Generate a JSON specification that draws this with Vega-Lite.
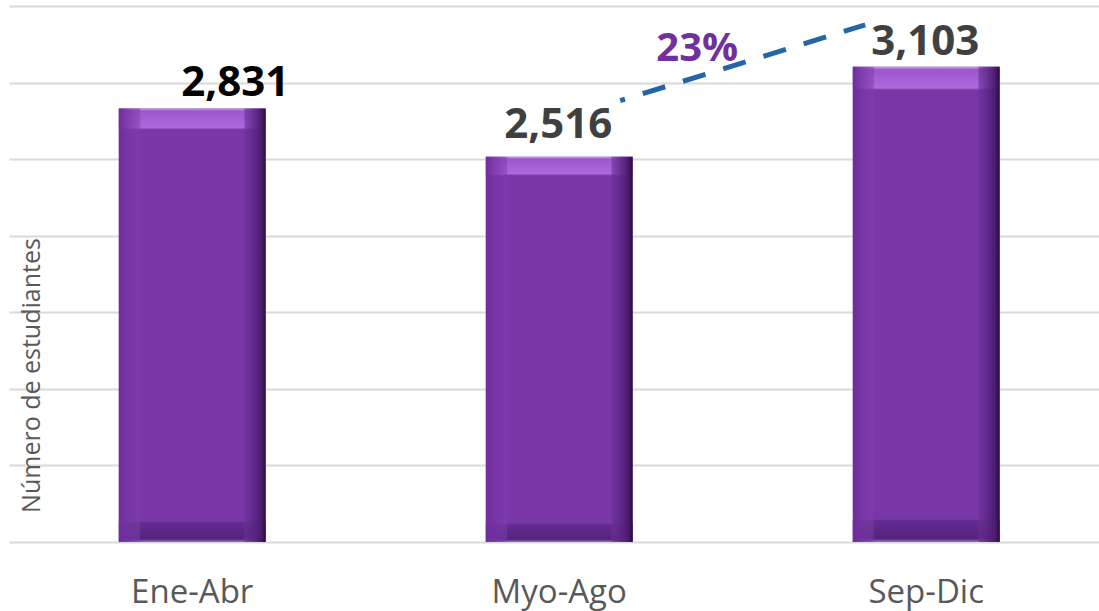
{
  "$schema": "https://vega.github.io/schema/vega-lite/v6.json",
  "autosize": {"type": "none"},
  "padding": {"left": 9, "top": 6, "right": 0, "bottom": 69},
  "width": 1090,
  "height": 536,
  "background": "white",
  "config": {"view": {"stroke": null}, "font": "Open Sans"},
  "datasets": {
    "estudiantes": [
      {"periodo": "Ene-Abr", "estudiantes": 2831},
      {"periodo": "Myo-Ago", "estudiantes": 2516},
      {"periodo": "Sep-Dic", "estudiantes": 3103}
    ],
    "tendencia": [
      {"desde": "Myo-Ago", "hasta": "Sep-Dic", "inicio": 2516, "fin": 3103, "cambio": "23%"}
    ]
  },
  "encoding": {
    "x": {
      "field": "periodo", "type": "nominal", "sort": null,
      "scale": {"domain": ["Ene-Abr", "Myo-Ago", "Sep-Dic"], "paddingInner": 0.6, "paddingOuter": 0.285, "align": 0.525},
      "axis": {"title": null, "domain": false, "ticks": false, "labelAngle": 0, "labelFont": "Open Sans", "labelFontSize": 33, "labelColor": "#595959", "labelBaseline": "alphabetic", "labelPadding": 60}
    },
    "y": {
      "field": "estudiantes", "type": "quantitative",
      "scale": {"domain": [0, 3500], "nice": false, "zero": true},
      "axis": {"title": "Número de estudiantes", "values": [0, 500, 1000, 1500, 2000, 2500, 3000, 3500], "labels": false, "ticks": false, "domain": false, "grid": true, "gridColor": "#D9D9D9", "gridWidth": 2, "titleFont": "Open Sans", "titleFontSize": 25, "titleFontWeight": "normal", "titleColor": "#595959", "titleAngle": -90, "titleAlign": "center", "titleBaseline": "middle", "titleX": 22, "titleY": 369}
    }
  },
  "layer": [
    {"data": {"name": "estudiantes"}, "mark": {"type": "bar", "fill": "#7A37A8"}},
    {"data": {"name": "estudiantes"}, "mark": {"type": "bar", "fill": {"gradient": "linear", "x1": 0, "y1": 0, "x2": 0, "y2": 1, "stops": [
      {"offset": 0, "color": "rgba(200,160,235,1)"},
      {"offset": 0.006, "color": "rgba(155,88,205,1)"},
      {"offset": 0.045, "color": "rgba(172,106,222,1)"},
      {"offset": 0.05, "color": "rgba(122,55,168,0)"},
      {"offset": 0.95, "color": "rgba(122,55,168,0)"},
      {"offset": 0.955, "color": "rgba(100,44,146,1)"},
      {"offset": 0.993, "color": "rgba(82,36,122,1)"},
      {"offset": 1, "color": "rgba(160,110,205,1)"}
    ]}}},
    {"data": {"name": "estudiantes"}, "mark": {"type": "bar", "fill": {"gradient": "linear", "x1": 0, "y1": 0, "x2": 1, "y2": 0, "stops": [
      {"offset": 0, "color": "rgba(110,45,155,1)"},
      {"offset": 0.14, "color": "rgba(128,60,175,0.5)"},
      {"offset": 0.15, "color": "rgba(122,55,168,0)"},
      {"offset": 0.85, "color": "rgba(122,55,168,0)"},
      {"offset": 0.86, "color": "rgba(108,46,152,0.6)"},
      {"offset": 0.97, "color": "rgba(75,28,110,1)"},
      {"offset": 1, "color": "rgba(40,12,65,1)"}
    ]}}},
    {"data": {"name": "estudiantes"}, "transform": [{"filter": "datum.periodo === 'Ene-Abr'"}],
     "mark": {"type": "text", "font": "Open Sans", "fontSize": 42, "fontWeight": "bold", "color": "#000000", "align": "center", "baseline": "alphabetic", "dx": 43, "dy": -12},
     "encoding": {"text": {"field": "estudiantes", "type": "quantitative", "format": ",.0f"}}},
    {"data": {"name": "estudiantes"}, "transform": [{"filter": "datum.periodo === 'Myo-Ago'"}],
     "mark": {"type": "text", "font": "Open Sans", "fontSize": 42, "fontWeight": "bold", "color": "#404040", "align": "center", "baseline": "alphabetic", "dx": -1, "dy": -19},
     "encoding": {"text": {"field": "estudiantes", "type": "quantitative", "format": ",.0f"}}},
    {"data": {"name": "estudiantes"}, "transform": [{"filter": "datum.periodo === 'Sep-Dic'"}],
     "mark": {"type": "text", "font": "Open Sans", "fontSize": 42, "fontWeight": "bold", "color": "#404040", "align": "center", "baseline": "alphabetic", "dx": -1, "dy": -12},
     "encoding": {"text": {"field": "estudiantes", "type": "quantitative", "format": ",.0f"}}},
    {"data": {"name": "tendencia"},
     "mark": {"type": "rule", "color": "#2365A6", "strokeWidth": 5, "strokeCap": "butt", "strokeDash": [23.5, 18.6], "strokeDashOffset": 18.5, "xOffset": 61, "x2Offset": -61, "yOffset": -56, "y2Offset": -42},
     "encoding": {
       "x": {"field": "desde", "type": "nominal"},
       "x2": {"field": "hasta"},
       "y": {"field": "inicio", "type": "quantitative"},
       "y2": {"field": "fin"}
     }},
    {"data": {"name": "tendencia"},
     "mark": {"type": "text", "font": "Open Sans", "fontSize": 40, "fontWeight": "bold", "color": "#7030A0", "align": "center", "baseline": "alphabetic", "dx": 138, "dy": -6},
     "encoding": {
       "x": {"field": "desde", "type": "nominal"},
       "y": {"field": "fin", "type": "quantitative"},
       "text": {"field": "cambio"}
     }}
  ]
}
